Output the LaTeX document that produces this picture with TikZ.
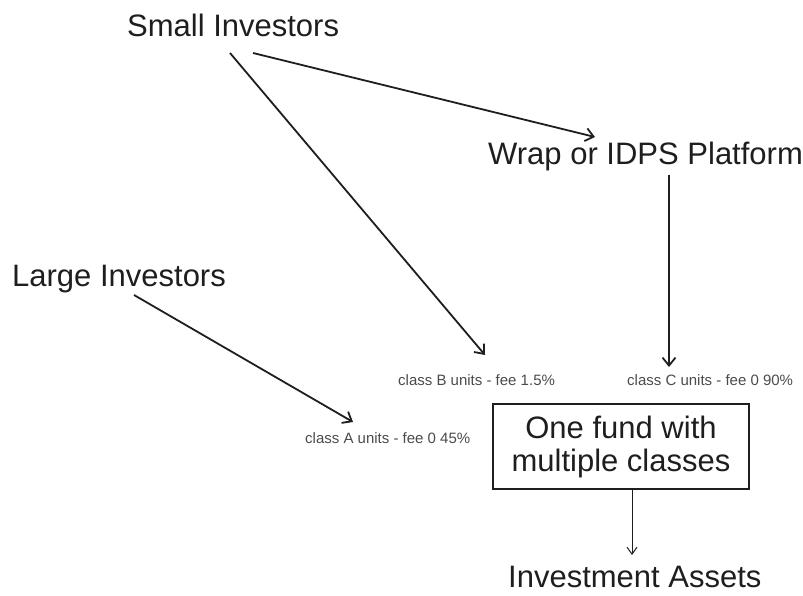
\documentclass[tikz,border=0pt]{standalone}
\usepackage{fontspec}
\setmainfont{Liberation Sans}
\usetikzlibrary{arrows.meta}
\definecolor{smallgray}{RGB}{75,75,75}
\definecolor{ink}{RGB}{30,30,30}
\tikzset{
  big/.style={inner sep=0pt, text=ink, font=\fontsize{31}{33}\selectfont},
  tag/.style={inner sep=0pt, text=smallgray, font=\fontsize{15}{17}\selectfont},
  fundbox/.style={draw=ink, line width=1.3pt, minimum width=256, minimum height=85,
    inner sep=0pt, align=center, text=ink, font=\fontsize{31}{33}\selectfont},
  mainarrow/.style={draw=ink, line width=1.8pt, -{Straight Barb[length=8pt,width=13pt,line width=1.8pt]}},
  thinarrow/.style={draw=ink, line width=1pt, -{Straight Barb[length=7pt,width=10pt,line width=1pt]}}
}
\begin{document}
\begin{tikzpicture}[x=1pt,y=-1pt]
\useasboundingbox (0,0) rectangle (803,596);

\node[big, anchor=base west] (si) at (127,37) {Small Investors};
\node[big, anchor=base west] (wrap) at (488,165) {Wrap or IDPS Platform};
\node[big, anchor=base west] (li) at (12,286) {Large Investors};
\node[big, anchor=base west] (ia) at (508,587) {Investment Assets};

\node[tag, anchor=base west] (cb) at (398,385) {class B units - fee 1.5\%};
\node[tag, anchor=base west] (cc) at (627,385) {class C units - fee 0 90\%};
\node[tag, anchor=base west] (ca) at (305,443) {class A units - fee 0 45\%};

\node[fundbox] (fund) at (621,446.5) {One fund with\\multiple classes};

\coordinate (siB) at (230,53);
\coordinate (cbT) at (485,355);
\coordinate (siW) at (253,53);
\coordinate (wrT) at (595,137);
\coordinate (wrS) at (669,175);
\coordinate (ccT) at (669,367);
\coordinate (liS) at (134,295);
\coordinate (caT) at (353,422);
\coordinate (fuS) at (632,489);
\coordinate (iaT) at (632,555);

\draw[mainarrow] (siB) -- (cbT);
\draw[mainarrow] (siW) -- (wrT);
\draw[mainarrow] (wrS) -- (ccT);
\draw[mainarrow] (liS) -- (caT);
\draw[thinarrow] (fuS) -- (iaT);
\end{tikzpicture}
\end{document}
